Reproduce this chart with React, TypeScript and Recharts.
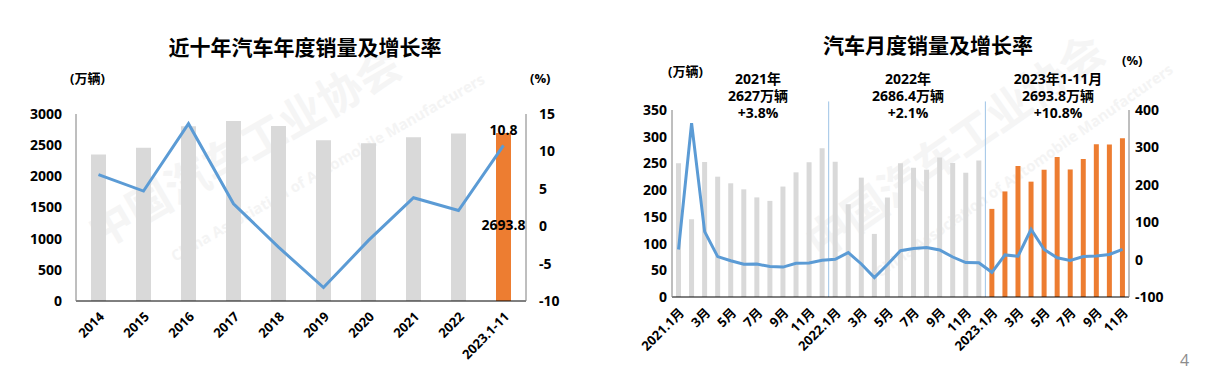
import React from 'react';
import {ComposedChart, Bar, Line, XAxis, YAxis, Cell, LabelList, ReferenceLine} from 'recharts';

// 近十年
const years = ['2014', '2015', '2016', '2017', '2018', '2019', '2020', '2021', '2022', '2023.1-11'];
const yearSales = [2349.2, 2459.8, 2802.8, 2887.9, 2808.1, 2576.9, 2531.1, 2627.5, 2686.4, 2693.8];
const yearGrowth = [6.9, 4.7, 13.7, 3.0, -2.8, -8.2, -1.9, 3.8, 2.1, 10.8];

// 月度
const months = [
    '2021.1', '2021.2', '2021.3', '2021.4', '2021.5', '2021.6', '2021.7', '2021.8', '2021.9', '2021.10', '2021.11', '2021.12',
    '2022.1', '2022.2', '2022.3', '2022.4', '2022.5', '2022.6', '2022.7', '2022.8', '2022.9', '2022.10', '2022.11', '2022.12',
    '2023.1', '2023.2', '2023.3', '2023.4', '2023.5', '2023.6', '2023.7', '2023.8', '2023.9', '2023.10', '2023.11',
];
const monthLabels = [
    '2021.1月', '2月', '3月', '4月', '5月', '6月', '7月', '8月', '9月', '10月', '11月', '12月',
    '2022.1月', '2月', '3月', '4月', '5月', '6月', '7月', '8月', '9月', '10月', '11月', '12月',
    '2023.1月', '2月', '3月', '4月', '5月', '6月', '7月', '8月', '9月', '10月', '11月',
];
const monthSales = [
    250.3, 145.5, 252.6, 225.2, 212.8, 201.5, 186.4, 179.9, 206.7, 233.3, 252.2, 278.6,
    253.1, 173.7, 223.4, 118.1, 186.2, 250.2, 242.0, 238.3, 261.0, 250.6, 232.6, 255.6,
    164.9, 197.6, 245.1, 215.9, 238.2, 262.2, 238.7, 258.2, 285.8, 285.3, 297.0,
];
const monthGrowth = [
    27, 364.8, 74.9, 8, -3, -12.4, -12, -18.5, -20, -10, -9.1, -1.6,
    0.9, 18.7, -11.7, -48, -13, 23.8, 29.7, 32.1, 25.7, 6.9, -7.9, -8.4,
    -34, 12.5, 9, 81, 27, 5, -2.3, 8.2, 9.5, 13.8, 27.4,
];

const leftTicks = [0, 500, 1000, 1500, 2000, 2500, 3000];
const leftPctTicks = [-10, -5, 0, 5, 10, 15];
const rightTicks = [0, 50, 100, 150, 200, 250, 300, 350];
const rightPctTicks = [-100, -50, 0, 50, 100, 150, 200, 250, 300, 350, 400];

const yearData = years.map((y, i) => ({name: y, sales: yearSales[i], growth: yearGrowth[i]}));
const monthData = months.map((m, i) => ({name: m, sales: monthSales[i], growth: monthGrowth[i]}));

const FONT = '"Open Sans", "Noto Sans CJK SC", sans-serif';
const GRAY = '#d9d9d9';
const ORANGE = '#ed7d31';
const BLUE = '#5b9bd5';
const AXIS = '#7f7f7f';
const tickStyle = {fontSize: 14, fontWeight: 700, fill: '#000', fontFamily: FONT};
const xTick = {fontSize: 13, fontWeight: 700, fill: '#000', fontFamily: FONT, angle: -45, textAnchor: 'end'};

const Watermark = () => (
    <g fontFamily={FONT} fontWeight={700}>
        <text x={100} y={250} fontSize={44} fill="#f5f5f5" transform="rotate(-30 100 250)">中国汽车工业协会</text>
        <text x={175} y={262} fontSize={15} fill="#f4f4f4" transform="rotate(-30 175 262)">China Association of Automobile Manufacturers</text>
        <text x={820} y={260} fontSize={44} fill="#f5f5f5" transform="rotate(-35 820 260)">中国汽车工业协会</text>
        <text x={880} y={278} fontSize={15} fill="#f4f4f4" transform="rotate(-35 880 278)">China Association of Automobile Manufacturers</text>
    </g>
);

const Backdrop = () => (
    <svg width={1212} height={376} style={{position: 'absolute', left: 0, top: 0}}>
        <rect width={1212} height={376} fill="#fff" />
        <Watermark />
        <g fontFamily={FONT} fontWeight={700} fill="#000">
            <text x={305} y={55} fontSize={21} textAnchor="middle">近十年汽车年度销量及增长率</text>
            <text x={70} y={83} fontSize={13}>(万辆)</text>
            <text x={530} y={83} fontSize={13}>(%)</text>
            <text x={928} y={53} fontSize={21} textAnchor="middle">汽车月度销量及增长率</text>
            <text x={668} y={76} fontSize={13}>(万辆)</text>
            <text x={1122} y={65} fontSize={13}>(%)</text>
            <g fontSize={14} textAnchor="middle">
                <text x={758} y={84}>2021年</text>
                <text x={758} y={101}>2627万辆</text>
                <text x={758} y={118}>+3.8%</text>
                <text x={908} y={84}>2022年</text>
                <text x={908} y={101}>2686.4万辆</text>
                <text x={908} y={118}>+2.1%</text>
                <text x={1058} y={84}>2023年1-11月</text>
                <text x={1058} y={101}>2693.8万辆</text>
                <text x={1058} y={118}>+10.8%</text>
            </g>
        </g>
        <text x={1180} y={366} fontSize={16} fill="#8c8c8c" fontFamily={FONT}>4</text>
    </svg>
);

const YearChart = () => (
    <ComposedChart width={600} height={376} data={yearData}
                   margin={{top: 114, right: 24, bottom: 15, left: 16}}
                   style={{position: 'absolute', left: 0, top: 0}}>
        <XAxis dataKey="name" interval={0} height={60} tick={xTick} tickLine={false}
               axisLine={{stroke: '#000'}} tickMargin={4} />
        <YAxis yAxisId="left" width={60} domain={[0, 3000]} ticks={leftTicks} tick={tickStyle}
               tickLine={false} tickSize={0} tickMargin={14} axisLine={{stroke: AXIS}} />
        <YAxis yAxisId="right" orientation="right" width={50} domain={[-10, 15]} ticks={leftPctTicks}
               tick={{...tickStyle, textAnchor: 'start'}} tickLine={false} tickSize={0} tickMargin={13}
               axisLine={{stroke: AXIS}} />
        <Bar yAxisId="left" dataKey="sales" barSize={15} isAnimationActive={false}>
            {yearData.map((d, i) => <Cell key={d.name} fill={i === yearData.length - 1 ? ORANGE : GRAY} />)}
            <LabelList dataKey="sales" content={(p: any) => p.index === yearData.length - 1 ? (
                <text x={p.x + p.width / 2} y={p.y + p.height * 0.55 + 5} textAnchor="middle"
                      fontSize={14} fontWeight={700} fontFamily={FONT} fill="#000">{p.value}</text>
            ) : null} />
        </Bar>
        <Line yAxisId="right" dataKey="growth" stroke={BLUE} strokeWidth={3} dot={false}
              isAnimationActive={false}>
            <LabelList dataKey="growth" content={(p: any) => p.index === yearData.length - 1 ? (
                <text x={p.x} y={p.y - 10} textAnchor="middle" fontSize={14} fontWeight={700}
                      fontFamily={FONT} fill="#000">{p.value}</text>
            ) : null} />
        </Line>
    </ComposedChart>
);

const MonthChart = () => (
    <ComposedChart width={612} height={376} data={monthData}
                   margin={{top: 110, right: 33, bottom: 19, left: 12}}
                   style={{position: 'absolute', left: 600, top: 0}}>
        <XAxis dataKey="name" interval={1} height={60} tick={xTick} tickLine={false}
               tickFormatter={(v: string) => monthLabels[months.indexOf(v)]}
               axisLine={{stroke: '#000'}} tickMargin={4} />
        <YAxis yAxisId="left" width={60} domain={[0, 350]} ticks={rightTicks} tick={tickStyle}
               tickLine={false} tickSize={0} tickMargin={5} axisLine={{stroke: AXIS}} />
        <YAxis yAxisId="right" orientation="right" width={50} domain={[-100, 400]} ticks={rightPctTicks}
               tick={{...tickStyle, textAnchor: 'start'}} tickLine={false} tickSize={0} tickMargin={6}
               axisLine={{stroke: AXIS}} />
        <ReferenceLine yAxisId="left" segment={[{x: '2022.1', y: 0}, {x: '2022.1', y: 366}]}
                       position="start" ifOverflow="visible" stroke="#9dc3e6" strokeWidth={1} />
        <ReferenceLine yAxisId="left" segment={[{x: '2023.1', y: 0}, {x: '2023.1', y: 366}]}
                       position="start" ifOverflow="visible" stroke="#9dc3e6" strokeWidth={1} />
        <Bar yAxisId="left" dataKey="sales" barSize={5} isAnimationActive={false}>
            {monthData.map((d, i) => <Cell key={d.name} fill={i >= 24 ? ORANGE : GRAY} />)}
        </Bar>
        <Line yAxisId="right" dataKey="growth" stroke={BLUE} strokeWidth={3} dot={false}
              isAnimationActive={false} />
    </ComposedChart>
);

export default function App() {
    return (
        <div style={{position: 'absolute', left: 0, top: 0, width: 1212, height: 376}}>
            <Backdrop />
            <YearChart />
            <MonthChart />
        </div>
    );
}
